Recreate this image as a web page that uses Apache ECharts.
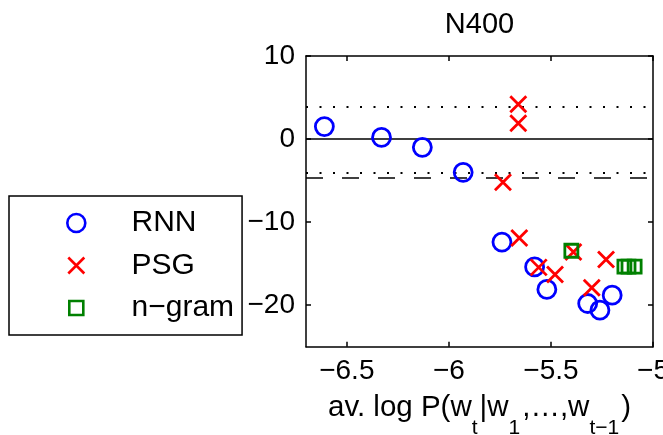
<!DOCTYPE html>
<html>
<head>
<meta charset="utf-8">
<script src="https://cdn.jsdelivr.net/npm/echarts@6/dist/echarts.min.js"></script>
<style>
  html, body { margin: 0; padding: 0; background: #fff; }
  #chart { width: 663px; height: 435px; }
</style>
</head>
<body>
<div id="chart"></div>
<script>
// Scatter values: x = average log probability, y = effect size
const rnnX = [-6.61, -6.33, -6.13, -5.93, -5.74, -5.58, -5.52, -5.32, -5.26, -5.20];
const rnnY = [1.5, 0.2, -1.0, -4.0, -12.4, -15.4, -18.1, -19.8, -20.6, -18.8];

const psgX = [-5.66, -5.66, -5.735, -5.655, -5.56, -5.48, -5.39, -5.23, -5.30];
const psgY = [4.2, 1.9, -5.2, -11.9, -15.45, -16.3, -13.6, -14.5, -17.9];

const ngramX = [-5.40, -5.14, -5.12, -5.09];
const ngramY = [-13.45, -15.35, -15.35, -15.35];

// Tick positions
const xTicks = [-6.5, -6, -5.5, -5];
const yTicks = [-20, -10, 0, 10];

// Horizontal reference levels
const refSolid = [0];
const refDotted = [3.9, -4.0];
const refDashed = [-4.6];

const FONT = '"Liberation Sans", Arial, Helvetica, sans-serif';
const minusFmt = v => String(v).replace('-', '\u2212');
const pairs = (xs, ys) => xs.map((x, i) => [x, ys[i]]);

const CROSS = 'path://M0,0L10,10M10,0L0,10';
const LEG_CROSS = 'path://M0,0M18,18M1,1L17,17M17,1L1,17';
const LEG_SQUARE = 'path://M0,0M18,18M2,2L16,2L16,16L2,16Z';

function xAxisOpt(position, showLabels) {
  return {
    type: 'value', position: position, min: -6.7, max: -5,
    axisLine: { show: true, onZero: false, lineStyle: { color: '#000', width: 1.5 } },
    axisTick: { show: true, inside: true, length: 5, customValues: xTicks, lineStyle: { color: '#000', width: 1.5 } },
    axisLabel: { show: showLabels, customValues: xTicks, formatter: minusFmt, margin: 11,
                 color: '#000', fontSize: 28, fontFamily: FONT },
    splitLine: { show: false }
  };
}
function yAxisOpt(position, showLabels) {
  return {
    type: 'value', position: position, min: -25, max: 10,
    axisLine: { show: true, onZero: false, lineStyle: { color: '#000', width: 1.5 } },
    axisTick: { show: true, inside: true, length: 5, customValues: yTicks, lineStyle: { color: '#000', width: 1.5 } },
    axisLabel: { show: showLabels, customValues: yTicks, formatter: minusFmt, margin: 11,
                 color: '#000', fontSize: 28, fontFamily: FONT },
    splitLine: { show: false }
  };
}

const bottomX = xAxisOpt('bottom', true);
Object.assign(bottomX, {
  name: '{m|av. log P(w}{s|t}{m||w}{s|1}{m|,\u2026,w}{s|t\u22121}{m|)}',
  nameLocation: 'middle',
  nameGap: 31,
  nameMoveOverlap: false,
  nameTextStyle: {
    color: '#000', fontFamily: FONT, fontSize: 29.5,
    rich: {
      m: { fontSize: 29.5, fontFamily: FONT, color: '#000' },
      s: { fontSize: 21, fontFamily: FONT, color: '#000', padding: [40, 2, 0, 0] }
    }
  }
});

const refLines = []
  .concat(refSolid.map(v => ({ yAxis: v, lineStyle: { type: 'solid', width: 1.5, color: '#000' } })))
  .concat(refDotted.map(v => ({ yAxis: v, lineStyle: { type: [2, 11.5], width: 2, color: '#000' } })))
  .concat(refDashed.map(v => ({ yAxis: v, lineStyle: { type: [17, 19], width: 1.5, color: '#000' } })));

const option = {
  animation: false,
  backgroundColor: '#fff',
  title: {
    text: 'N400', left: 479.5, top: 10, textAlign: 'center', padding: 0,
    textStyle: { fontSize: 29, fontWeight: 'normal', color: '#000', fontFamily: FONT }
  },
  grid: { left: 306, right: 10, top: 56, bottom: 88.3, containLabel: false, outerBoundsMode: 'none' },
  xAxis: [bottomX, xAxisOpt('top', false)],
  yAxis: [yAxisOpt('left', true), yAxisOpt('right', false)],
  legend: {
    orient: 'vertical', left: 9, top: 196,
    padding: [12, 8, 12, 57], itemGap: 12.5, itemWidth: 18, itemHeight: 18,
    borderColor: '#000', borderWidth: 1.5, backgroundColor: '#fff',
    selectedMode: false,
    textStyle: { fontSize: 30, color: '#000', fontFamily: FONT, padding: [0, 0, 0, 41.2] },
    itemStyle: { borderWidth: 2.6 },
    data: [
      { name: 'RNN', icon: 'circle' },
      { name: 'PSG', icon: LEG_CROSS },
      { name: 'n\u2212gram', icon: LEG_SQUARE }
    ]
  },
  series: [
    {
      type: 'scatter', data: [], silent: true, z: 1,
      markLine: { z: 1, silent: true, animation: false, symbol: ['none', 'none'],
                  label: { show: false }, data: refLines }
    },
    {
      name: 'RNN', type: 'scatter', z: 3, data: pairs(rnnX, rnnY),
      symbol: 'circle', symbolSize: 18,
      itemStyle: { color: 'rgba(0,0,0,0)', borderColor: '#0000ff', borderWidth: 2.8, opacity: 1 },
      emphasis: { disabled: true }
    },
    {
      name: 'PSG', type: 'scatter', z: 4, data: pairs(psgX, psgY),
      symbol: CROSS, symbolSize: 16,
      itemStyle: { color: 'rgba(0,0,0,0)', borderColor: '#ff0000', borderWidth: 2.8, opacity: 1 },
      emphasis: { disabled: true }
    },
    {
      name: 'n\u2212gram', type: 'scatter', z: 5, data: pairs(ngramX, ngramY),
      symbol: 'rect', symbolSize: 13,
      itemStyle: { color: 'rgba(0,0,0,0)', borderColor: '#008000', borderWidth: 2.8, opacity: 1 },
      emphasis: { disabled: true }
    }
  ]
};

const chart = echarts.init(document.getElementById('chart'), null, { renderer: 'canvas' });
chart.setOption(option);
</script>
</body>
</html>
